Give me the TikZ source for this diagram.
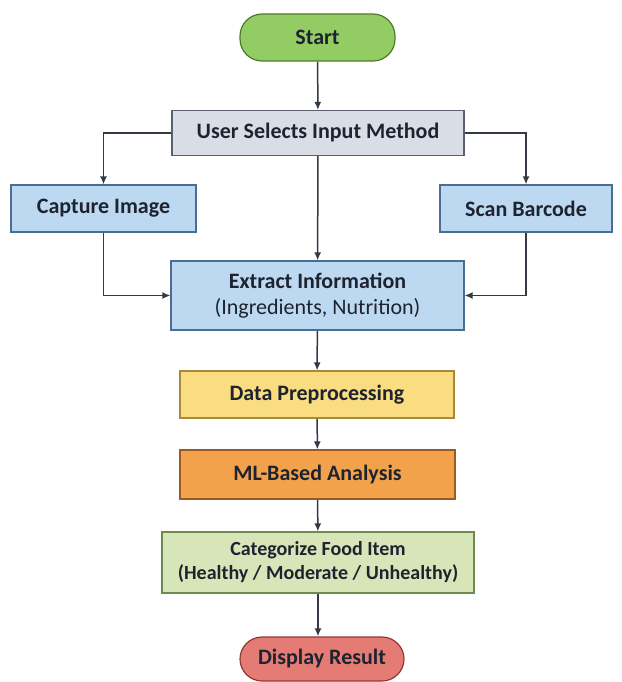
\documentclass[tikz,border=0pt]{standalone}
\usepackage{fontspec}
\setmainfont{Carlito}
\usetikzlibrary{arrows.meta}
\pgfdeclarelayer{edgelayer}
\pgfdeclarelayer{nodelayer}
\pgfsetlayers{edgelayer,nodelayer,main}
\definecolor{inkc}{HTML}{1E2330}
\definecolor{startfill}{HTML}{92CC62}
\definecolor{startdraw}{HTML}{4E7A2E}
\definecolor{grayfill}{HTML}{D9DDE6}
\definecolor{graydraw}{HTML}{5A6070}
\definecolor{bluefill}{HTML}{BDD9F1}
\definecolor{bluedraw}{HTML}{4A6E93}
\definecolor{yellowfill}{HTML}{FADD80}
\definecolor{yellowdraw}{HTML}{A88A3A}
\definecolor{orangefill}{HTML}{F3A24C}
\definecolor{orangedraw}{HTML}{9A5A22}
\definecolor{greenfill}{HTML}{D6E6B8}
\definecolor{greendraw}{HTML}{6E8A4E}
\definecolor{redfill}{HTML}{E47B74}
\definecolor{reddraw}{HTML}{8E3A34}
\tikzstyle{edge}=[draw=inkc!90, line width=1.5pt, -{Latex[length=8pt,width=7pt]}]
\tikzstyle{box}=[rectangle, draw, line width=1.2pt, inner sep=0pt, align=center, text=inkc, font=\fontsize{22}{26}\selectfont\bfseries]
\tikzstyle{term}=[box, rounded corners=22pt]

\begin{document}
\begin{tikzpicture}[x=1pt, y=1pt]
			\useasboundingbox (0, 0) rectangle (621, -682);
			\begin{pgfonlayer}{nodelayer}
			\node [style=term, fill=startfill, draw=startdraw, minimum width=155, minimum height=47] (0) at (317.5, -37.5) {Start};
			\node [style=box, fill=grayfill, draw=graydraw, minimum width=292, minimum height=45] (1) at (318, -133) {User Selects Input Method};
			\node [style=box, fill=bluefill, draw=bluedraw, minimum width=185, minimum height=47] (2) at (103.5, -208.5) {Capture Image};
			\node [style=box, fill=bluefill, draw=bluedraw, minimum width=172, minimum height=47] (3) at (526, -208.5) {Scan Barcode};
			\node [style=box, fill=bluefill, draw=bluedraw, minimum width=293, minimum height=69] (4) at (317.5, -295.5) {Extract Information\\{\mdseries (Ingredients, Nutrition)}};
			\node [style=box, fill=yellowfill, draw=yellowdraw, minimum width=274, minimum height=47] (5) at (317, -394.5) {Data Preprocessing};
			\node [style=box, fill=orangefill, draw=orangedraw, minimum width=275, minimum height=49] (6) at (317.5, -474.5) {ML-Based Analysis};
			\node [style=box, fill=greenfill, draw=greendraw, minimum width=312, minimum height=61, font=\fontsize{20}{24}\selectfont\bfseries] (7) at (318, -562.5) {Categorize Food Item\\(Healthy / Moderate / Unhealthy)};
			\node [style=term, fill=redfill, draw=reddraw, minimum width=164, minimum height=44] (8) at (322, -659) {Display Result};
			\end{pgfonlayer}
			\begin{pgfonlayer}{edgelayer}
			\draw [style=edge] (0) to (1);
			\draw [style=edge] (1.west) -| (2.north);
			\draw [style=edge] (1.east) -| (3.north);
			\draw [style=edge] (1) to (4);
			\draw [style=edge] (2.south) |- (4.west);
			\draw [style=edge] (3.south) |- (4.east);
			\draw [style=edge] (4) to (5);
			\draw [style=edge] (5) to (6);
			\draw [style=edge] (6) to (7);
			\draw [style=edge] (7.south) to (8.north -| 7.south);
			\end{pgfonlayer}
\end{tikzpicture}
\end{document}
